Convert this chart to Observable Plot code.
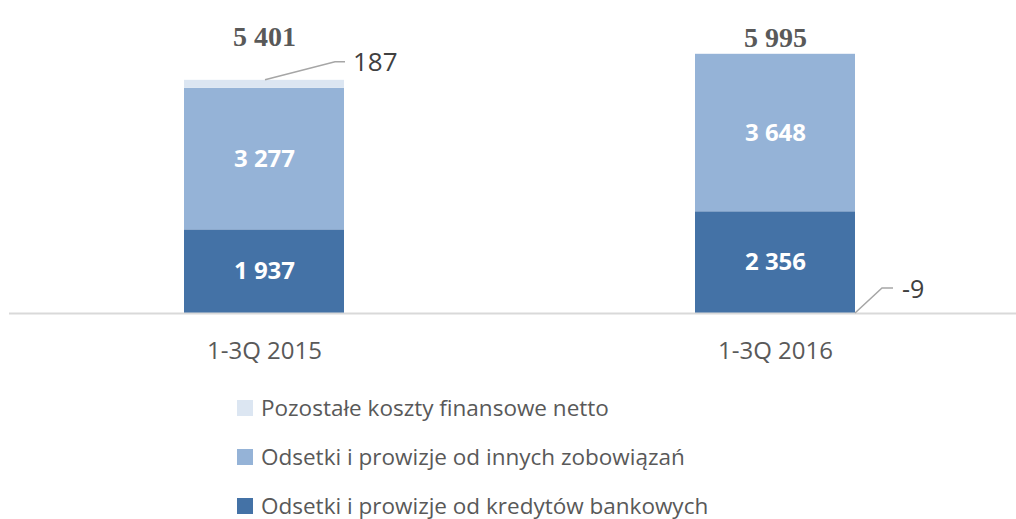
<!DOCTYPE html>
<html>
<head>
<meta charset="utf-8">
<script src="https://cdn.jsdelivr.net/npm/d3@7"></script>
<script src="https://cdn.jsdelivr.net/npm/@observablehq/plot@0.6"></script>
<style>
  html, body { margin: 0; padding: 0; background: #fff; }
  #chart svg { display: block; }
  .legend { padding: 8px 0 0 237px; font-family: "Open Sans", sans-serif; font-size: 22.5px; color: #595959; }
  .legend .item { display: flex; align-items: center; height: 49px; }
  .legend .sw { width: 16px; height: 16px; margin-right: 8px; }
</style>
</head>
<body>
<div id="chart"></div>
<script>
// ---- data ----
const categories = ["1-3Q 2015", "1-3Q 2016"];
const seriesNames = [
  "Odsetki i prowizje od kredytów bankowych",
  "Odsetki i prowizje od innych zobowiązań",
  "Pozostałe koszty finansowe netto"
];
const kredyty = [1937, 2356];
const inneZobowiazania = [3277, 3648];
const pozostale = [187, -9];
const totals = [5401, 5995];
const legendOrder = [2, 1, 0];

// ---- styles ----
const colors = ["#4472a6", "#95b3d7", "#dce6f2"];

const loc = d3.formatLocale({decimal: ",", thousands: "\u00a0", grouping: [3], currency: ["", ""], minus: "-"});
const fmt = loc.format(",d");

const rows = [];
categories.forEach((c, i) => {
  rows.push({cat: c, series: seriesNames[0], value: kredyty[i]});
  rows.push({cat: c, series: seriesNames[1], value: inneZobowiazania[i]});
  rows.push({cat: c, series: seriesNames[2], value: pozostale[i]});
});
const totalRows = categories.map((c, i) => ({cat: c, total: totals[i]}));

const plot = Plot.plot({
  width: 1016,
  height: 375,
  marginLeft: 9,
  marginRight: 0,
  marginTop: 0,
  marginBottom: 62,
  style: {fontFamily: "'Open Sans', sans-serif", overflow: "visible", background: "#fff"},
  x: {domain: categories, range: [184, 855], paddingInner: 0.687, paddingOuter: 0, align: 0.5, label: null},
  y: {domain: [0, 7250], axis: null},
  color: {domain: seriesNames, range: colors},
  marks: [
    Plot.barY(rows, {x: "cat", y: "value", fill: "series", inset: 0}),
    Plot.ruleY([0], {stroke: "#d9d9d9", strokeWidth: 2}),
    Plot.text(rows.filter(d => d.series !== seriesNames[2]), Plot.stackY({
      x: "cat", y: "value", z: "series",
      text: d => fmt(d.value), fill: "#fff", fontWeight: "bold", fontSize: 24
    })),
    Plot.text(totalRows.filter((d, i) => i === 0), {
      x: "cat", text: d => fmt(d.total), frameAnchor: "top", dy: 26,
      fontFamily: "'Liberation Serif', serif", fontWeight: "bold", fontSize: 28, fill: "#595959"
    }),
    Plot.text(totalRows.filter((d, i) => i === 1), {
      x: "cat", text: d => fmt(d.total), frameAnchor: "top", dy: 27,
      fontFamily: "'Liberation Serif', serif", fontWeight: "bold", fontSize: 28, fill: "#595959"
    }),
    Plot.axisX({tickSize: 0, tickPadding: 28, fontSize: 24, fill: "#595959", label: null})
  ]
});

document.getElementById("chart").appendChild(plot);

// ---- leader lines for small values, positioned through Plot's scales ----
const xs = plot.scale("x");
const ys = plot.scale("y");
const bw = xs.bandwidth;
const svg = d3.select(plot);
const g = svg.append("g").attr("text-anchor", "start").attr("font-family", "'Open Sans', sans-serif");

// 2015: top segment label
{
  const i = 0;
  const x0 = xs.apply(categories[i]);
  const yTop = ys.apply(totals[i]);
  const pts = [[x0 + bw / 2 + 1, yTop], [x0 + bw - 9, yTop - 18], [x0 + bw + 1, yTop - 18]];
  g.append("path").attr("d", d3.line()(pts)).attr("fill", "none").attr("stroke", "#a6a6a6").attr("stroke-width", 1.5);
  g.append("text").attr("x", x0 + bw + 9).attr("y", yTop - 18).attr("dy", "0.35em")
    .attr("font-size", 26).attr("fill", "#404040").text(fmt(pozostale[i]));
}
// 2016: negative segment label
{
  const i = 1;
  const x0 = xs.apply(categories[i]);
  const y0 = ys.apply(0);
  const pts = [[x0 + bw, y0], [x0 + bw + 27, y0 - 25], [x0 + bw + 38, y0 - 25]];
  g.append("path").attr("d", d3.line()(pts)).attr("fill", "none").attr("stroke", "#a6a6a6").attr("stroke-width", 1.5);
  g.append("text").attr("x", x0 + bw + 47).attr("y", y0 - 25).attr("dy", "0.38em")
    .attr("font-size", 25).attr("fill", "#404040").text(fmt(pozostale[i]));
}

// ---- legend ----
const leg = document.createElement("div");
leg.className = "legend";
legendOrder.forEach(k => {
  const it = document.createElement("div");
  it.className = "item";
  const sw = document.createElement("span");
  sw.className = "sw";
  sw.style.background = colors[k];
  const tx = document.createElement("span");
  tx.textContent = seriesNames[k];
  it.appendChild(sw);
  it.appendChild(tx);
  leg.appendChild(it);
});
document.body.appendChild(leg);
</script>
</body>
</html>
